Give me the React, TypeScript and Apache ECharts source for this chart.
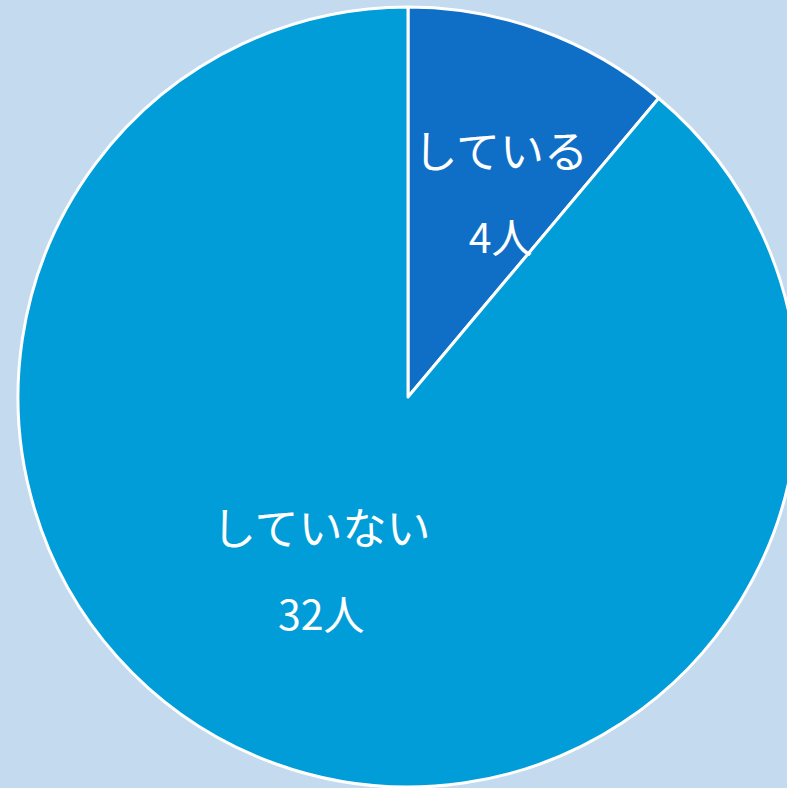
import React, { useEffect, useRef } from "react";
import * as echarts from "echarts";

const categories = ["している", "していない"];
const values = [4, 32];
const colors = ["#0F6FC6", "#009DD9"];
const labelOffsets: [number, number][] = [[25, -19], [-19, -14]];

export default function App() {
  const ref = useRef<HTMLDivElement>(null);
  useEffect(() => {
    document.body.style.margin = "0";
    const chart = echarts.init(ref.current!, undefined, { renderer: "svg" });
    chart.setOption({
      animation: false,
      backgroundColor: "#C4DAEF",
      series: [
        {
          type: "pie",
          center: [408, 397],
          radius: [0, 390],
          startAngle: 90,
          clockwise: true,
          silent: true,
          itemStyle: { borderColor: "#ffffff", borderWidth: 3 },
          label: {
            show: true,
            position: "inside",
            formatter: "{t|{b}}\n{v|{c}人}",
            color: "#ffffff",
            fontFamily: "Noto Sans CJK JP",
            rich: {
              t: { fontSize: 44, lineHeight: 86, color: "#ffffff", fontFamily: "Noto Sans CJK JP" },
              v: { fontSize: 41, lineHeight: 86, color: "#ffffff", fontFamily: "Noto Sans CJK JP" },
            },
          },
          labelLine: { show: false },
          data: categories.map((name, i) => ({
            name,
            value: values[i],
            itemStyle: { color: colors[i] },
            label: { offset: labelOffsets[i] },
          })),
        },
      ],
    });
    return () => chart.dispose();
  }, []);
  return <div ref={ref} style={{ width: 787, height: 788 }} />;
}
